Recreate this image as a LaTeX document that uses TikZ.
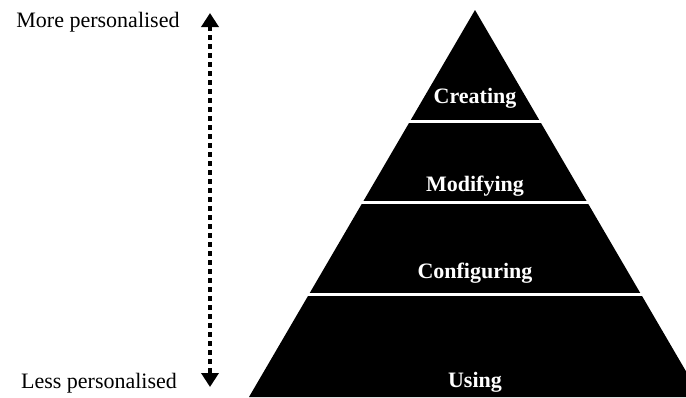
\documentclass[tikz,border=0pt]{standalone}
\usepackage{fontspec}
\setmainfont{Liberation Serif}
\usetikzlibrary{arrows.meta}

\begin{document}
\begin{tikzpicture}[x=1pt, y=-1pt, levels/.style={text=white, anchor=base, font=\fontsize{22}{26}\selectfont\bfseries}, ends/.style={anchor=base, font=\fontsize{22}{26}\selectfont}, gaps/.style={draw=white, line width=3pt}]
	\useasboundingbox (0,0) rectangle (686,397);
	\clip (0,0) rectangle (686,397);
	\coordinate (0) at (475,10);
	\coordinate (1) at (249,397);
	\coordinate (2) at (701,397);
	\fill (0)--(1)--(2)--cycle;
\foreach \y in {121, 202, 294}
\draw [gaps] (240,\y)--(710,\y);
	\node [levels] (3) at (475,103){Creating};
	\node [levels] (4) at (475,191){Modifying};
	\node [levels] (5) at (475,278){Configuring};
	\node [levels] (6) at (475,387){Using};
	\node [ends] (7) at (98,27){More personalised};
	\node [ends] (8) at (99,388){Less personalised};
	\coordinate (9) at (210,13);
	\coordinate (10) at (210,387);
\draw [line width=4.5pt, dash pattern=on 4.5pt off 4.5pt, {Triangle[width=17pt,length=14pt]}-{Triangle[width=17pt,length=14pt]}] (9)--(10);
\end{tikzpicture}
\end{document}
